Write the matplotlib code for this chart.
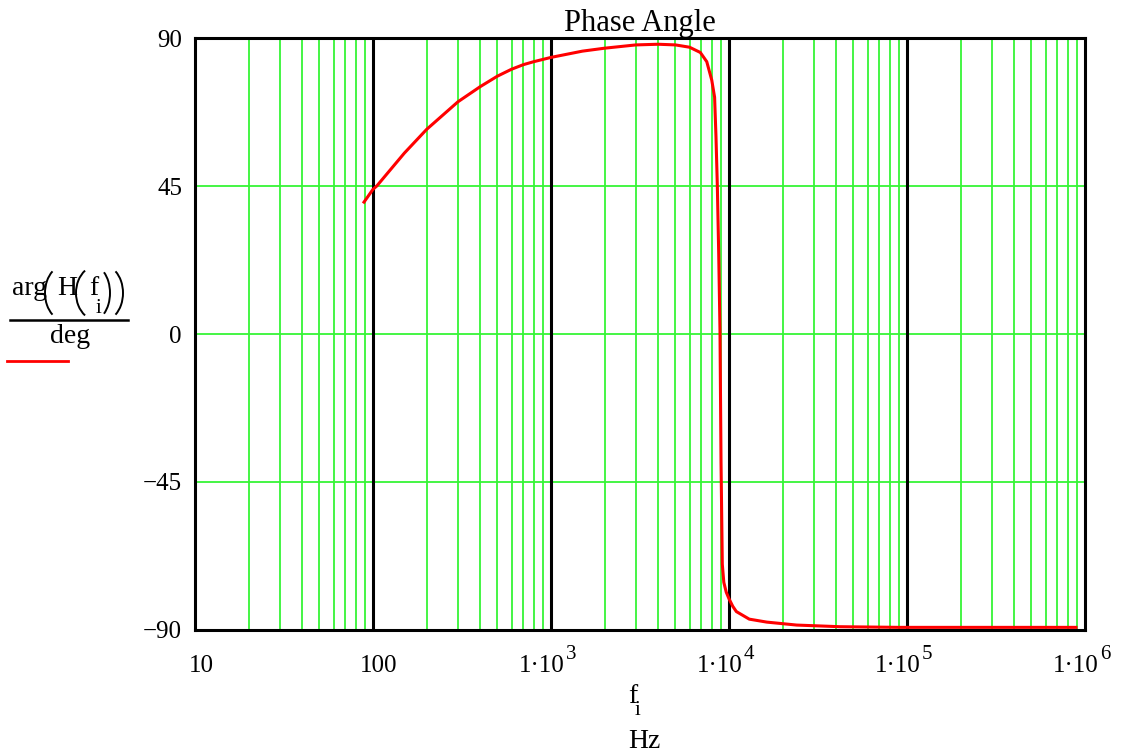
import matplotlib
matplotlib.use("Agg")
import matplotlib.pyplot as plt
import matplotlib.transforms as mtransforms
from matplotlib.patches import Arc

plt.rcParams['font.family'] = ['Liberation Serif', 'DejaVu Serif']

# phase response
freq = [89, 100, 105, 150, 200, 300, 400, 500, 600, 700, 800, 1000, 1500, 2000,
        3000, 4000, 5000, 6000, 6900, 7500, 8000, 8300, 8450, 8600, 8750, 8900,
        9020, 9170, 9350, 9650, 10000, 10500, 11000, 13000, 16300, 24000, 42000,
        91000, 890000]
phase = [40.1, 44.0, 45.0, 55.0, 62.2, 70.6, 75.2, 78.4, 80.5, 81.9, 82.8, 84.1,
         86.0, 86.9, 87.9, 88.1, 87.9, 87.2, 85.6, 82.8, 77.2, 72.0, 60.0, 45.0,
         25.0, 1.0, -39.0, -70.0, -75.5, -78.5, -80.5, -82.8, -84.4, -86.7, -87.6,
         -88.5, -89.0, -89.2, -89.2]

x_ticks = [10, 100, 1e3, 1e4, 1e5, 1e6]
x_main = ["10", "100", "1\u00b710", "1\u00b710", "1\u00b710", "1\u00b710"]
x_sup = ["", "", "3", "4", "5", "6"]
y_ticks = [-90, -45, 0, 45, 90]
y_labels = ["\u221290", "\u221245", "0", "45", "90"]

W, H = 1123, 756
fig = plt.figure(figsize=(W / 100, H / 100), dpi=100)
ax = fig.add_axes([195 / W, (H - 630) / H, 890 / W, 592 / H])

ax.set_xscale('log')
ax.set_xlim(10, 1e6)
ax.set_ylim(-90, 90)

green = "#36f536"
minor = [m * 10 ** d for d in range(1, 6) for m in range(2, 10)]
for v in minor:
    ax.axvline(v, color=green, lw=1.3, zorder=1)
for v in [-45, 0, 45]:
    ax.axhline(v, color=green, lw=1.3, zorder=1)
for v in x_ticks[1:-1]:
    ax.axvline(v, color="black", lw=2.2, zorder=2)

ax.plot(freq, phase, color="red", lw=2.2, zorder=3)

ax.set_xticks([])
ax.set_yticks([])
ax.minorticks_off()
for s in ax.spines.values():
    s.set_linewidth(2.2)
    s.set_zorder(4)

# tick labels, placed by hand to get the Mathcad look
xt = ax.get_xaxis_transform()
for v, m, s in zip(x_ticks, x_main, x_sup):
    if s == "":
        tr = mtransforms.offset_copy(xt, fig, x=6, y=-42, units='dots')
        ax.text(v, 0, m, transform=tr, ha="center", va="baseline", fontsize=18)
    else:
        tr = mtransforms.offset_copy(xt, fig, x=14, y=-42, units='dots')
        ax.text(v, 0, m, transform=tr, ha="right", va="baseline", fontsize=18)
        tr2 = mtransforms.offset_copy(xt, fig, x=15, y=-29, units='dots')
        ax.text(v, 0, s, transform=tr2, ha="left", va="baseline", fontsize=15)

yt = ax.get_yaxis_transform()
for v, lab in zip(y_ticks, y_labels):
    tr = mtransforms.offset_copy(yt, fig, x=-13, y=0, units='dots')
    ax.text(0, v, lab, transform=tr, ha="right", va="center_baseline", fontsize=18)

fig.text(640 / W, 1 - 31 / H, "Phase Angle", ha="center", va="baseline",
         fontsize=22)


def px(x, y):
    return x / W, 1 - y / H


# y axis label: arg(H(f_i)) over deg
fig.text(*px(12, 295), "arg", ha="left", va="baseline", fontsize=20)
fig.text(*px(57, 295), "H", ha="left", va="baseline", fontsize=20)
fig.text(*px(89, 295), "f", ha="left", va="baseline", fontsize=20)
fig.text(*px(96, 313), "i", ha="left", va="baseline", fontsize=15)

ident = mtransforms.IdentityTransform()
for x0, x1, left in [(45, 55, True), (76, 87, True), (101, 110, False),
                     (113, 123, False)]:
    y_top, y_bot = 269, 317
    rx = (x1 - x0) / 0.5
    ry = (y_bot - y_top) / 2 / 0.866
    cy = H - (y_top + y_bot) / 2
    if left:
        arc = Arc((x0 + rx, cy), 2 * rx, 2 * ry, theta1=120, theta2=240,
                  lw=1.4, color="black", transform=ident)
    else:
        arc = Arc((x1 - rx, cy), 2 * rx, 2 * ry, theta1=-60, theta2=60,
                  lw=1.4, color="black", transform=ident)
    fig.add_artist(arc)

fig.add_artist(plt.Line2D([10 / W, 128 / W], [1 - 320 / H, 1 - 320 / H],
                          color="black", lw=1.8))
fig.text(*px(70, 343), "deg", ha="center", va="baseline", fontsize=20)
fig.add_artist(plt.Line2D([7 / W, 68 / W], [1 - 361 / H, 1 - 361 / H],
                          color="red", lw=2))

# x axis label: f_i over Hz
fig.text(*px(628, 703), "f", ha="left", va="baseline", fontsize=20)
fig.text(*px(635, 715), "i", ha="left", va="baseline", fontsize=15)
fig.text(*px(628, 748), "Hz", ha="left", va="baseline", fontsize=20)

fig.savefig("out.png", dpi=100)
